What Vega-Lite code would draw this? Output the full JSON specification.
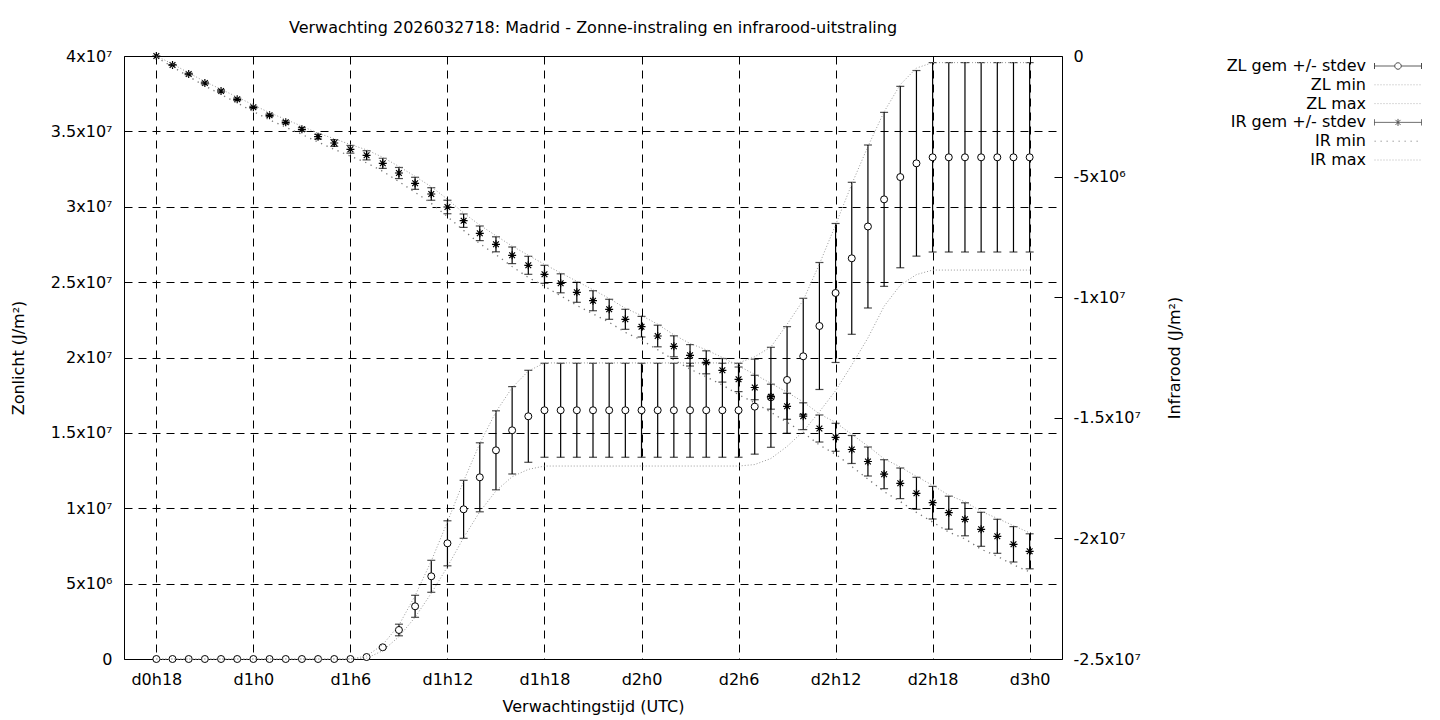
{
  "$schema": "https://vega.github.io/schema/vega-lite/v6.json",
  "width": 938,
  "height": 603,
  "autosize": "none",
  "padding": {"left": 124, "top": 56, "right": 378, "bottom": 61},
  "background": "white",
  "title": {"text": "Verwachting 2026032718: Madrid - Zonne-instraling en infrarood-uitstraling", "offset": 12},
  "datasets": {
    "fc": [
      {"h": 18, "zl": 0, "zlSd": 0, "zlMin": 0, "zlMax": 0, "ir": 0, "irSd": 0, "irMin": -50000, "irMax": 0},
      {"h": 19, "zl": 0, "zlSd": 0, "zlMin": 0, "zlMax": 0, "ir": -373000, "irSd": 20000, "irMin": -450000, "irMax": -330000},
      {"h": 20, "zl": 0, "zlSd": 0, "zlMin": 0, "zlMax": 0, "ir": -746000, "irSd": 30000, "irMin": -850000, "irMax": -700000},
      {"h": 21, "zl": 0, "zlSd": 0, "zlMin": 0, "zlMax": 0, "ir": -1119000, "irSd": 40000, "irMin": -1240000, "irMax": -1060000},
      {"h": 22, "zl": 0, "zlSd": 0, "zlMin": 0, "zlMax": 0, "ir": -1451000, "irSd": 50000, "irMin": -1590000, "irMax": -1380000},
      {"h": 23, "zl": 0, "zlSd": 0, "zlMin": 0, "zlMax": 0, "ir": -1795000, "irSd": 50000, "irMin": -1950000, "irMax": -1700000},
      {"h": 24, "zl": 0, "zlSd": 0, "zlMin": 0, "zlMax": 0, "ir": -2127000, "irSd": 40000, "irMin": -2300000, "irMax": -2030000},
      {"h": 25, "zl": 0, "zlSd": 0, "zlMin": 0, "zlMax": 0, "ir": -2459000, "irSd": 50000, "irMin": -2650000, "irMax": -2350000},
      {"h": 26, "zl": 0, "zlSd": 0, "zlMin": 0, "zlMax": 0, "ir": -2749000, "irSd": 60000, "irMin": -2950000, "irMax": -2630000},
      {"h": 27, "zl": 0, "zlSd": 0, "zlMin": 0, "zlMax": 0, "ir": -3039000, "irSd": 80000, "irMin": -3250000, "irMax": -2910000},
      {"h": 28, "zl": 0, "zlSd": 0, "zlMin": 0, "zlMax": 0, "ir": -3346000, "irSd": 100000, "irMin": -3570000, "irMax": -3200000},
      {"h": 29, "zl": 0, "zlSd": 0, "zlMin": 0, "zlMax": 0, "ir": -3607000, "irSd": 140000, "irMin": -3870000, "irMax": -3430000},
      {"h": 30, "zl": 0, "zlSd": 0, "zlMin": 0, "zlMax": 0, "ir": -3868000, "irSd": 160000, "irMin": -4150000, "irMax": -3670000},
      {"h": 31, "zl": 130000, "zlSd": 0, "zlMin": 50000, "zlMax": 200000, "ir": -4117000, "irSd": 190000, "irMin": -4430000, "irMax": -3890000},
      {"h": 32, "zl": 776000, "zlSd": 50000, "zlMin": 550000, "zlMax": 950000, "ir": -4449000, "irSd": 210000, "irMin": -4780000, "irMax": -4200000},
      {"h": 33, "zl": 1924000, "zlSd": 385000, "zlMin": 1480000, "zlMax": 2250000, "ir": -4851000, "irSd": 230000, "irMin": -5210000, "irMax": -4580000},
      {"h": 34, "zl": 3496000, "zlSd": 730000, "zlMin": 2770000, "zlMax": 4200000, "ir": -5278000, "irSd": 250000, "irMin": -5650000, "irMax": -4990000},
      {"h": 35, "zl": 5486000, "zlSd": 1061000, "zlMin": 4360000, "zlMax": 6500000, "ir": -5721000, "irSd": 260000, "irMin": -6110000, "irMax": -5420000},
      {"h": 36, "zl": 7675000, "zlSd": 1493000, "zlMin": 6120000, "zlMax": 9100000, "ir": -6260000, "irSd": 280000, "irMin": -6660000, "irMax": -5940000},
      {"h": 37, "zl": 9930000, "zlSd": 1924000, "zlMin": 8050000, "zlMax": 11800000, "ir": -6828000, "irSd": 278000, "irMin": -7230000, "irMax": -6510000},
      {"h": 38, "zl": 12053000, "zlSd": 2289000, "zlMin": 9770000, "zlMax": 14300000, "ir": -7351000, "irSd": 303000, "irMin": -7780000, "irMax": -7010000},
      {"h": 39, "zl": 13844000, "zlSd": 2620000, "zlMin": 11150000, "zlMax": 16400000, "ir": -7807000, "irSd": 311000, "irMin": -8240000, "irMax": -7450000},
      {"h": 40, "zl": 15171000, "zlSd": 2899000, "zlMin": 12090000, "zlMax": 18000000, "ir": -8263000, "irSd": 344000, "irMin": -8730000, "irMax": -7880000},
      {"h": 41, "zl": 16100000, "zlSd": 3051000, "zlMin": 12580000, "zlMax": 19100000, "ir": -8678000, "irSd": 373000, "irMin": -9180000, "irMax": -8260000},
      {"h": 42, "zl": 16500000, "zlSd": 3118000, "zlMin": 12800000, "zlMax": 19640000, "ir": -9051000, "irSd": 373000, "irMin": -9550000, "irMax": -8640000},
      {"h": 43, "zl": 16500000, "zlSd": 3118000, "zlMin": 12800000, "zlMax": 19640000, "ir": -9424000, "irSd": 394000, "irMin": -9940000, "irMax": -8990000},
      {"h": 44, "zl": 16500000, "zlSd": 3118000, "zlMin": 12800000, "zlMax": 19640000, "ir": -9797000, "irSd": 415000, "irMin": -10340000, "irMax": -9340000},
      {"h": 45, "zl": 16500000, "zlSd": 3118000, "zlMin": 12800000, "zlMax": 19640000, "ir": -10146000, "irSd": 415000, "irMin": -10690000, "irMax": -9690000},
      {"h": 46, "zl": 16500000, "zlSd": 3118000, "zlMin": 12800000, "zlMax": 19640000, "ir": -10502000, "irSd": 415000, "irMin": -11040000, "irMax": -10050000},
      {"h": 47, "zl": 16500000, "zlSd": 3118000, "zlMin": 12800000, "zlMax": 19640000, "ir": -10917000, "irSd": 415000, "irMin": -11460000, "irMax": -10460000},
      {"h": 48, "zl": 16500000, "zlSd": 3118000, "zlMin": 12800000, "zlMax": 19640000, "ir": -11223000, "irSd": 427000, "irMin": -11780000, "irMax": -10760000},
      {"h": 49, "zl": 16500000, "zlSd": 3118000, "zlMin": 12800000, "zlMax": 19640000, "ir": -11609000, "irSd": 448000, "irMin": -12180000, "irMax": -11120000},
      {"h": 50, "zl": 16500000, "zlSd": 3118000, "zlMin": 12800000, "zlMax": 19640000, "ir": -12036000, "irSd": 435000, "irMin": -12600000, "irMax": -11560000},
      {"h": 51, "zl": 16500000, "zlSd": 3118000, "zlMin": 12800000, "zlMax": 19640000, "ir": -12409000, "irSd": 444000, "irMin": -12980000, "irMax": -11920000},
      {"h": 52, "zl": 16500000, "zlSd": 3118000, "zlMin": 12800000, "zlMax": 19640000, "ir": -12699000, "irSd": 477000, "irMin": -13300000, "irMax": -12180000},
      {"h": 53, "zl": 16500000, "zlSd": 3118000, "zlMin": 12800000, "zlMax": 19640000, "ir": -13031000, "irSd": 489000, "irMin": -13640000, "irMax": -12500000},
      {"h": 54, "zl": 16500000, "zlSd": 3118000, "zlMin": 12800000, "zlMax": 19640000, "ir": -13404000, "irSd": 510000, "irMin": -14040000, "irMax": -12850000},
      {"h": 55, "zl": 16740000, "zlSd": 3151000, "zlMin": 12900000, "zlMax": 20050000, "ir": -13744000, "irSd": 506000, "irMin": -14380000, "irMax": -13200000},
      {"h": 56, "zl": 17360000, "zlSd": 3317000, "zlMin": 13300000, "zlMax": 20700000, "ir": -14125000, "irSd": 518000, "irMin": -14770000, "irMax": -13570000},
      {"h": 57, "zl": 18510000, "zlSd": 3536000, "zlMin": 14100000, "zlMax": 22200000, "ir": -14523000, "irSd": 539000, "irMin": -15190000, "irMax": -13940000},
      {"h": 58, "zl": 20080000, "zlSd": 3847000, "zlMin": 15100000, "zlMax": 23800000, "ir": -14934000, "irSd": 556000, "irMin": -15610000, "irMax": -14340000},
      {"h": 59, "zl": 22090000, "zlSd": 4212000, "zlMin": 16400000, "zlMax": 26200000, "ir": -15444000, "irSd": 560000, "irMin": -16130000, "irMax": -14840000},
      {"h": 60, "zl": 24280000, "zlSd": 4610000, "zlMin": 17800000, "zlMax": 28800000, "ir": -15808000, "irSd": 580000, "irMin": -16510000, "irMax": -15190000},
      {"h": 61, "zl": 26580000, "zlSd": 5041000, "zlMin": 19500000, "zlMax": 31500000, "ir": -16314000, "irSd": 580000, "irMin": -17020000, "irMax": -15690000},
      {"h": 62, "zl": 28690000, "zlSd": 5406000, "zlMin": 21300000, "zlMax": 34000000, "ir": -16812000, "irSd": 601000, "irMin": -17540000, "irMax": -16170000},
      {"h": 63, "zl": 30490000, "zlSd": 5771000, "zlMin": 23400000, "zlMax": 36300000, "ir": -17338000, "irSd": 601000, "irMin": -18060000, "irMax": -16700000},
      {"h": 64, "zl": 31970000, "zlSd": 6017000, "zlMin": 24800000, "zlMax": 38100000, "ir": -17716000, "irSd": 634000, "irMin": -18470000, "irMax": -17040000},
      {"h": 65, "zl": 32880000, "zlSd": 6156000, "zlMin": 25500000, "zlMax": 39200000, "ir": -18130000, "irSd": 663000, "irMin": -18920000, "irMax": -17430000},
      {"h": 66, "zl": 33280000, "zlSd": 6282000, "zlMin": 25800000, "zlMax": 39560000, "ir": -18520000, "irSd": 676000, "irMin": -19320000, "irMax": -17800000},
      {"h": 67, "zl": 33280000, "zlSd": 6282000, "zlMin": 25800000, "zlMax": 39560000, "ir": -18934000, "irSd": 684000, "irMin": -19740000, "irMax": -18210000},
      {"h": 68, "zl": 33280000, "zlSd": 6282000, "zlMin": 25800000, "zlMax": 39560000, "ir": -19208000, "irSd": 684000, "irMin": -20020000, "irMax": -18480000},
      {"h": 69, "zl": 33280000, "zlSd": 6282000, "zlMin": 25800000, "zlMax": 39560000, "ir": -19623000, "irSd": 705000, "irMin": -20450000, "irMax": -18880000},
      {"h": 70, "zl": 33280000, "zlSd": 6282000, "zlMin": 25800000, "zlMax": 39560000, "ir": -19913000, "irSd": 705000, "irMin": -20740000, "irMax": -19170000},
      {"h": 71, "zl": 33280000, "zlSd": 6282000, "zlMin": 25800000, "zlMax": 39560000, "ir": -20245000, "irSd": 734000, "irMin": -21100000, "irMax": -19470000},
      {"h": 72, "zl": 33280000, "zlSd": 6282000, "zlMin": 25800000, "zlMax": 39560000, "ir": -20535000, "irSd": 726000, "irMin": -21390000, "irMax": -19770000}
    ],
    "legendRows": [
      {"serie": "ZL gem +/- stdev"},
      {"serie": "ZL min"},
      {"serie": "ZL max"},
      {"serie": "IR gem +/- stdev"},
      {"serie": "IR min"},
      {"serie": "IR max"}
    ]
  },
  "data": {"name": "fc"},
  "layer": [
    {
      "layer": [
        {
          "transform": [{"filter": "datum.zlSd > 0"}],
          "mark": {"type": "errorbar", "ticks": {"size": 8, "thickness": 1.2, "color": "black"}, "color": "black", "thickness": 1.2},
          "encoding": {
            "x": {"field": "h", "type": "quantitative", "scale": {"domain": [16, 74], "nice": false, "zero": false},
              "axis": {"title": "Verwachtingstijd (UTC)", "values": [18, 24, 30, 36, 42, 48, 54, 60, 66, 72], "labelExpr": "'d' + floor(datum.value / 24) + 'h' + (datum.value % 24)", "grid": true, "labelPadding": 12, "titleY": 47, "titleBaseline": "middle"}},
            "y": {"field": "zl", "type": "quantitative", "scale": {"domain": [0, 40000000], "nice": false, "zero": false},
              "axis": {"title": "Zonlicht (J/m²)", "values": [0, 5000000, 10000000, 15000000, 20000000, 25000000, 30000000, 35000000, 40000000], "labelExpr": "datum.value == 0 ? '0' : (datum.value / pow(10, floor(log(abs(datum.value)) / LN10 + 1e-9))) + 'x10' + slice('⁰¹²³⁴⁵⁶⁷⁸⁹', floor(log(abs(datum.value)) / LN10 + 1e-9), floor(log(abs(datum.value)) / LN10 + 1e-9) + 1)", "grid": true, "labelPadding": 12, "titleX": -106, "titleY": 301.5, "titleAngle": 270, "titleBaseline": "middle", "titleAlign": "center"}},
            "yError": {"field": "zlSd"}
          }
        },
        {
          "mark": {"type": "point", "shape": "circle", "filled": true, "fill": "white", "stroke": "black", "strokeWidth": 1, "size": 49, "opacity": 1},
          "encoding": {
            "x": {"field": "h", "type": "quantitative", "scale": {"domain": [16, 74], "nice": false, "zero": false},
              "axis": {"title": "Verwachtingstijd (UTC)", "values": [18, 24, 30, 36, 42, 48, 54, 60, 66, 72], "labelExpr": "'d' + floor(datum.value / 24) + 'h' + (datum.value % 24)", "grid": true, "labelPadding": 12, "titleY": 47, "titleBaseline": "middle"}},
            "y": {"field": "zl", "type": "quantitative", "scale": {"domain": [0, 40000000], "nice": false, "zero": false},
              "axis": {"title": "Zonlicht (J/m²)", "values": [0, 5000000, 10000000, 15000000, 20000000, 25000000, 30000000, 35000000, 40000000], "labelExpr": "datum.value == 0 ? '0' : (datum.value / pow(10, floor(log(abs(datum.value)) / LN10 + 1e-9))) + 'x10' + slice('⁰¹²³⁴⁵⁶⁷⁸⁹', floor(log(abs(datum.value)) / LN10 + 1e-9), floor(log(abs(datum.value)) / LN10 + 1e-9) + 1)", "grid": true, "labelPadding": 12, "titleX": -106, "titleY": 301.5, "titleAngle": 270, "titleBaseline": "middle", "titleAlign": "center"}}
          }
        },
        {
          "mark": {"type": "line", "color": "#999999", "strokeWidth": 1, "strokeDash": [1, 2]},
          "encoding": {
            "x": {"field": "h", "type": "quantitative", "scale": {"domain": [16, 74], "nice": false, "zero": false},
              "axis": {"title": "Verwachtingstijd (UTC)", "values": [18, 24, 30, 36, 42, 48, 54, 60, 66, 72], "labelExpr": "'d' + floor(datum.value / 24) + 'h' + (datum.value % 24)", "grid": true, "labelPadding": 12, "titleY": 47, "titleBaseline": "middle"}},
            "y": {"field": "zlMin", "type": "quantitative", "scale": {"domain": [0, 40000000], "nice": false, "zero": false},
              "axis": {"title": "Zonlicht (J/m²)", "values": [0, 5000000, 10000000, 15000000, 20000000, 25000000, 30000000, 35000000, 40000000], "labelExpr": "datum.value == 0 ? '0' : (datum.value / pow(10, floor(log(abs(datum.value)) / LN10 + 1e-9))) + 'x10' + slice('⁰¹²³⁴⁵⁶⁷⁸⁹', floor(log(abs(datum.value)) / LN10 + 1e-9), floor(log(abs(datum.value)) / LN10 + 1e-9) + 1)", "grid": true, "labelPadding": 12, "titleX": -106, "titleY": 301.5, "titleAngle": 270, "titleBaseline": "middle", "titleAlign": "center"}}
          }
        },
        {
          "mark": {"type": "line", "color": "#999999", "strokeWidth": 1, "strokeDash": [1, 2]},
          "encoding": {
            "x": {"field": "h", "type": "quantitative", "scale": {"domain": [16, 74], "nice": false, "zero": false},
              "axis": {"title": "Verwachtingstijd (UTC)", "values": [18, 24, 30, 36, 42, 48, 54, 60, 66, 72], "labelExpr": "'d' + floor(datum.value / 24) + 'h' + (datum.value % 24)", "grid": true, "labelPadding": 12, "titleY": 47, "titleBaseline": "middle"}},
            "y": {"field": "zlMax", "type": "quantitative", "scale": {"domain": [0, 40000000], "nice": false, "zero": false},
              "axis": {"title": "Zonlicht (J/m²)", "values": [0, 5000000, 10000000, 15000000, 20000000, 25000000, 30000000, 35000000, 40000000], "labelExpr": "datum.value == 0 ? '0' : (datum.value / pow(10, floor(log(abs(datum.value)) / LN10 + 1e-9))) + 'x10' + slice('⁰¹²³⁴⁵⁶⁷⁸⁹', floor(log(abs(datum.value)) / LN10 + 1e-9), floor(log(abs(datum.value)) / LN10 + 1e-9) + 1)", "grid": true, "labelPadding": 12, "titleX": -106, "titleY": 301.5, "titleAngle": 270, "titleBaseline": "middle", "titleAlign": "center"}}
          }
        }
      ]
    },
    {
      "layer": [
        {
          "transform": [{"filter": "datum.irSd > 0"}],
          "mark": {"type": "errorbar", "ticks": {"size": 8, "thickness": 1.2, "color": "black"}, "color": "black", "thickness": 1.2},
          "encoding": {
            "x": {"field": "h", "type": "quantitative", "scale": {"domain": [16, 74], "nice": false, "zero": false},
              "axis": {"title": "Verwachtingstijd (UTC)", "values": [18, 24, 30, 36, 42, 48, 54, 60, 66, 72], "labelExpr": "'d' + floor(datum.value / 24) + 'h' + (datum.value % 24)", "grid": true, "labelPadding": 12, "titleY": 47, "titleBaseline": "middle"}},
            "y": {"field": "ir", "type": "quantitative", "scale": {"domain": [-25000000, 0], "nice": false, "zero": false},
              "axis": {"orient": "right", "title": "Infrarood (J/m²)", "values": [-25000000, -20000000, -15000000, -10000000, -5000000, 0], "labelExpr": "datum.value == 0 ? '0' : (datum.value / pow(10, floor(log(abs(datum.value)) / LN10 + 1e-9))) + 'x10' + slice('⁰¹²³⁴⁵⁶⁷⁸⁹', floor(log(abs(datum.value)) / LN10 + 1e-9), floor(log(abs(datum.value)) / LN10 + 1e-9) + 1)", "grid": false, "ticks": true, "tickSize": -8, "tickColor": "black", "labelPadding": 19, "titleX": 112, "titleY": 301.5, "titleAngle": 270, "titleBaseline": "middle", "titleAlign": "center"}},
            "yError": {"field": "irSd"}
          }
        },
        {
          "mark": {"type": "point", "shape": "M-1,0H1M0,-1V1M-0.72,-0.72L0.72,0.72M-0.72,0.72L0.72,-0.72", "filled": false, "stroke": "black", "strokeWidth": 1.2, "size": 64, "opacity": 1},
          "encoding": {
            "x": {"field": "h", "type": "quantitative", "scale": {"domain": [16, 74], "nice": false, "zero": false},
              "axis": {"title": "Verwachtingstijd (UTC)", "values": [18, 24, 30, 36, 42, 48, 54, 60, 66, 72], "labelExpr": "'d' + floor(datum.value / 24) + 'h' + (datum.value % 24)", "grid": true, "labelPadding": 12, "titleY": 47, "titleBaseline": "middle"}},
            "y": {"field": "ir", "type": "quantitative", "scale": {"domain": [-25000000, 0], "nice": false, "zero": false},
              "axis": {"orient": "right", "title": "Infrarood (J/m²)", "values": [-25000000, -20000000, -15000000, -10000000, -5000000, 0], "labelExpr": "datum.value == 0 ? '0' : (datum.value / pow(10, floor(log(abs(datum.value)) / LN10 + 1e-9))) + 'x10' + slice('⁰¹²³⁴⁵⁶⁷⁸⁹', floor(log(abs(datum.value)) / LN10 + 1e-9), floor(log(abs(datum.value)) / LN10 + 1e-9) + 1)", "grid": false, "ticks": true, "tickSize": -8, "tickColor": "black", "labelPadding": 19, "titleX": 112, "titleY": 301.5, "titleAngle": 270, "titleBaseline": "middle", "titleAlign": "center"}}
          }
        },
        {
          "mark": {"type": "line", "color": "#777777", "strokeWidth": 1.3, "strokeDash": [1.3, 4.7]},
          "encoding": {
            "x": {"field": "h", "type": "quantitative", "scale": {"domain": [16, 74], "nice": false, "zero": false},
              "axis": {"title": "Verwachtingstijd (UTC)", "values": [18, 24, 30, 36, 42, 48, 54, 60, 66, 72], "labelExpr": "'d' + floor(datum.value / 24) + 'h' + (datum.value % 24)", "grid": true, "labelPadding": 12, "titleY": 47, "titleBaseline": "middle"}},
            "y": {"field": "irMin", "type": "quantitative", "scale": {"domain": [-25000000, 0], "nice": false, "zero": false},
              "axis": {"orient": "right", "title": "Infrarood (J/m²)", "values": [-25000000, -20000000, -15000000, -10000000, -5000000, 0], "labelExpr": "datum.value == 0 ? '0' : (datum.value / pow(10, floor(log(abs(datum.value)) / LN10 + 1e-9))) + 'x10' + slice('⁰¹²³⁴⁵⁶⁷⁸⁹', floor(log(abs(datum.value)) / LN10 + 1e-9), floor(log(abs(datum.value)) / LN10 + 1e-9) + 1)", "grid": false, "ticks": true, "tickSize": -8, "tickColor": "black", "labelPadding": 19, "titleX": 112, "titleY": 301.5, "titleAngle": 270, "titleBaseline": "middle", "titleAlign": "center"}}
          }
        },
        {
          "mark": {"type": "line", "color": "#999999", "strokeWidth": 1, "strokeDash": [1, 2]},
          "encoding": {
            "x": {"field": "h", "type": "quantitative", "scale": {"domain": [16, 74], "nice": false, "zero": false},
              "axis": {"title": "Verwachtingstijd (UTC)", "values": [18, 24, 30, 36, 42, 48, 54, 60, 66, 72], "labelExpr": "'d' + floor(datum.value / 24) + 'h' + (datum.value % 24)", "grid": true, "labelPadding": 12, "titleY": 47, "titleBaseline": "middle"}},
            "y": {"field": "irMax", "type": "quantitative", "scale": {"domain": [-25000000, 0], "nice": false, "zero": false},
              "axis": {"orient": "right", "title": "Infrarood (J/m²)", "values": [-25000000, -20000000, -15000000, -10000000, -5000000, 0], "labelExpr": "datum.value == 0 ? '0' : (datum.value / pow(10, floor(log(abs(datum.value)) / LN10 + 1e-9))) + 'x10' + slice('⁰¹²³⁴⁵⁶⁷⁸⁹', floor(log(abs(datum.value)) / LN10 + 1e-9), floor(log(abs(datum.value)) / LN10 + 1e-9) + 1)", "grid": false, "ticks": true, "tickSize": -8, "tickColor": "black", "labelPadding": 19, "titleX": 112, "titleY": 301.5, "titleAngle": 270, "titleBaseline": "middle", "titleAlign": "center"}}
          }
        }
      ]
    },
    {
      "data": {"name": "legendRows"},
      "transform": [{"filter": "false"}],
      "mark": {"type": "point", "filled": false},
      "encoding": {
        "shape": {"field": "serie", "type": "nominal",
          "scale": {"domain": ["ZL gem +/- stdev", "ZL min", "ZL max", "IR gem +/- stdev", "IR min", "IR max"],
            "range": [
              "M-4.7,-0.6V0.6M4.7,-0.6V0.6M-4.7,0H-0.65M0.65,0H4.7M-0.65,0A0.65,0.65,0,1,0,0.65,0A0.65,0.65,0,1,0,-0.65,0",
              "M-4.7,0H4.7",
              "M-4.7,0H4.7",
              "M-4.7,-0.6V0.6M4.7,-0.6V0.6M-4.7,0H4.7M0,-0.7V0.7M-0.5,-0.5L0.5,0.5M-0.5,0.5L0.5,-0.5",
              "M-4.7,0H4.7",
              "M-4.7,0H4.7"
            ]},
          "legend": {"title": null, "orient": "none", "legendX": 1266, "legendY": 2, "labelAlign": "right", "labelOffset": -40, "rowPadding": 2.8, "padding": 0, "symbolSize": 100, "symbolStrokeWidth": 1, "labelFont": "DejaVu Sans", "labelFontSize": 16, "labelColor": "black", "labelLimit": 400}},
        "stroke": {"field": "serie", "type": "nominal",
          "scale": {"domain": ["ZL gem +/- stdev", "ZL min", "ZL max", "IR gem +/- stdev", "IR min", "IR max"],
            "range": ["black", "#999999", "#999999", "black", "#666666", "#999999"]}},
        "strokeDash": {"field": "serie", "type": "nominal",
          "scale": {"domain": ["ZL gem +/- stdev", "ZL min", "ZL max", "IR gem +/- stdev", "IR min", "IR max"],
            "range": [[1, 0], [1, 2], [1, 2], [1, 0], [1.3, 4.7], [1, 2]]}}
      }
    }
  ],
  "resolve": {"scale": {"y": "independent"}},
  "config": {
    "font": "DejaVu Sans",
    "view": {"stroke": "black", "strokeWidth": 1},
    "title": {"font": "DejaVu Sans", "fontSize": 16, "fontWeight": "normal", "color": "black", "anchor": "middle"},
    "axis": {"labelFont": "DejaVu Sans", "labelFontSize": 16, "labelColor": "black", "titleFont": "DejaVu Sans", "titleFontSize": 16, "titleFontWeight": "normal", "titleColor": "black", "domain": false, "ticks": false, "gridColor": "black", "gridDash": [8, 6], "gridOpacity": 1, "gridWidth": 1, "labelOverlap": false, "labelBound": false, "labelFlush": false}
  }
}
